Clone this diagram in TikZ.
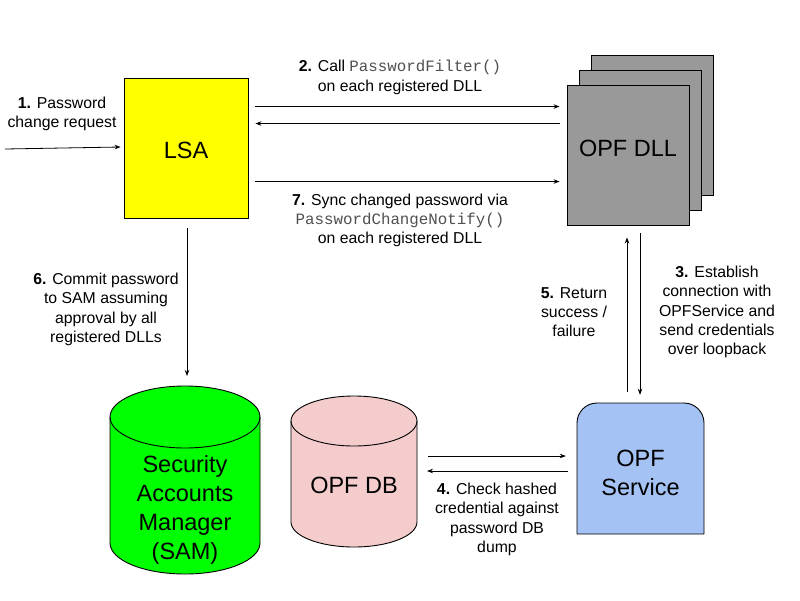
\documentclass[tikz,border=0pt]{standalone}
\usepackage{fontspec}
\setmainfont{Liberation Sans}
\setmonofont{Liberation Mono}
\usetikzlibrary{arrows.meta,calc}
\definecolor{dllgray}{HTML}{999999}
\definecolor{dbpink}{HTML}{F4CCCC}
\definecolor{svcblue}{HTML}{A4C2F4}
\definecolor{samgreen}{HTML}{00FF00}
\definecolor{lsayellow}{HTML}{FFFF00}
\definecolor{monogray}{HTML}{505050}
\newcommand{\codetxt}[1]{\textcolor{monogray}{\texttt{#1}}}
\tikzset{
  arr/.style={draw=black, line width=0.8pt, -{Stealth[length=6pt,width=4.5pt]}},
  lbl/.style={align=center, inner sep=0pt, font=\fontsize{15.8}{19.3}\selectfont},
  big/.style={align=center, inner sep=0pt, font=\fontsize{23.5}{29}\selectfont},
  shp/.style={draw=black, line width=0.9pt},
  dllbox/.style={shp, fill=dllgray, minimum width=122pt, minimum height=140pt, inner sep=0pt}
}
\begin{document}
\begin{tikzpicture}[x=1pt,y=-1pt]
\useasboundingbox[fill=white] (0,0) rectangle (800,600);

% LSA
\node[shp, fill=lsayellow, minimum width=124pt, minimum height=140pt, inner sep=0pt] (lsa) at (186,148) {};
\node[big] (lsatext) at (186,150) {LSA};

% OPF DLL stack
\node[dllbox] (dll3) at (652,125) {};
\node[dllbox] (dll2) at (640,140) {};
\node[dllbox] (dll) at (628,155) {};
\node[big] (dlltext) at (628,148) {OPF DLL};

% SAM cylinder
\draw[shp, fill=samgreen] (110,417) -- (110,543) arc[start angle=180, end angle=0, x radius=75, y radius=31]
  -- (260,417) arc[start angle=360, end angle=180, x radius=75, y radius=31] -- cycle;
\draw[shp] (110,417) arc[start angle=180, end angle=0, x radius=75, y radius=31];
\coordinate (samtop) at (185,386);
\node[big] (sam) at (185,510) {Security\\Accounts\\Manager\\(SAM)};

% OPF DB cylinder
\draw[shp, fill=dbpink] (291,421) -- (291,522) arc[start angle=180, end angle=0, x radius=63, y radius=25]
  -- (417,421) arc[start angle=360, end angle=180, x radius=63, y radius=25] -- cycle;
\draw[shp] (291,421) arc[start angle=180, end angle=0, x radius=63, y radius=25];
\node[big] (db) at (354,485) {OPF DB};

% OPF Service
\draw[shp, fill=svcblue] (577,534) -- (577,423) arc[start angle=180, end angle=270, radius=20]
  -- (684,403) arc[start angle=270, end angle=360, radius=20] -- (704,534) -- cycle;
\node[minimum width=127pt, minimum height=131pt, inner sep=0pt] (svc) at (640.5,468.5) {};
\node[big] (svctext) at (640.5,473) {OPF\\Service};

% input
\coordinate (src) at (5,149);
\draw[arr] (src) -- ($(lsa.west)+(-3,-1)$);
\node[lbl] (l1) at (62,114) {\textbf{1.} Password\\change request};

% LSA <-> DLL
\draw[arr] ($(lsa.north east)+(7,29)$) -- ($(dll.north west)+(-7,22)$);
\draw[arr] ($(dll.north west)+(-7,39)$) -- ($(lsa.north east)+(7,46)$);
\draw[arr] ($(lsa.north east)+(7,104)$) -- ($(dll.north west)+(-7,97)$);
\node[lbl] (l2) at (400,77.5) {\textbf{2.} Call \codetxt{PasswordFilter()}\\on each registered DLL};
\node[lbl] (l7) at (400,220.5) {\textbf{7.} Sync changed password via\\\codetxt{PasswordChangeNotify()}\\on each registered DLL};

% LSA -> SAM
\draw[arr] ($(lsa.south)+(1,10)$) -- ($(samtop)+(2,-10)$);
\node[lbl] (l6) at (106,309.5) {\textbf{6.} Commit password\\to SAM assuming\\approval by all\\registered DLLs};

% DLL <-> Service
\draw[arr] ($(svc.north)+(-13.5,-11)$) -- ($(dll.south)+(-1,12)$);
\draw[arr] ($(dll.south)+(12,8)$) -- ($(svc.north)+(-0.5,-8)$);
\node[lbl] (l5) at (574,312) {\textbf{5.} Return\\success /\\failure};
\node[lbl] (l3) at (717,312) {\textbf{3.} Establish\\connection with\\OPFService and\\send credentials\\over loopback};

% DB <-> Service
\draw[arr] (428,456) -- ($(svc.west)+(-11,-12.5)$);
\draw[arr] ($(svc.west)+(-9,2.5)$) -- (427,471);
\node[lbl] (l4) at (497,519.5) {\textbf{4.} Check hashed\\credential against\\password DB\\dump};
\end{tikzpicture}
\end{document}
